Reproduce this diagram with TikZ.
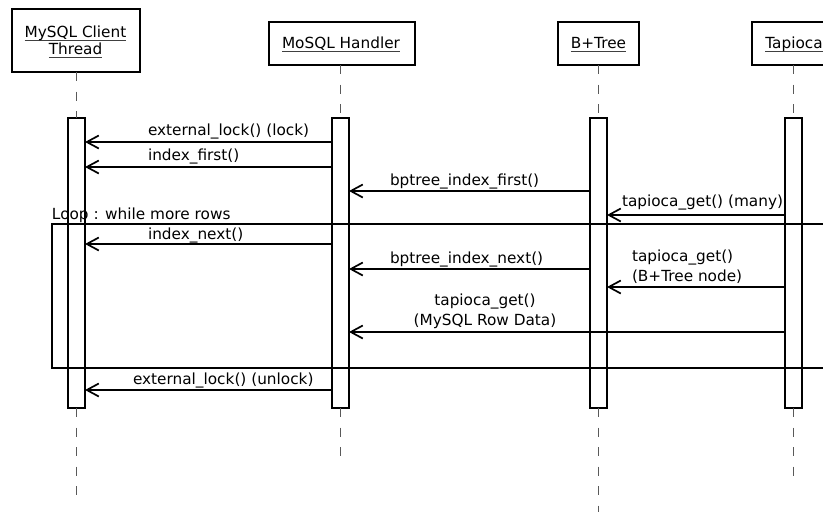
\documentclass[tikz,border=0pt]{standalone}
\usepackage{fontspec}
\setmainfont{DejaVu Sans}
\usetikzlibrary{arrows.meta}
\newcommand\ulin[1]{\setbox0\hbox{#1}\rlap{\color{black!75}\rule[-4.3pt]{\wd0}{1.2pt}}\box0}
\tikzset{
  obj/.style={draw, line width=2pt, fill=white, inner sep=0pt, outer sep=0pt},
  bar/.style={draw, line width=2pt, fill=white, inner sep=0pt, outer sep=0pt, minimum width=17pt, minimum height=290pt},
  life/.style={draw=black!65, line width=1.3pt, dash pattern=on 9pt off 10.5pt},
  msg/.style={line width=1.7pt, -{Straight Barb[length=12pt,width=13pt]}},
  lbl/.style={inner sep=0pt, outer sep=0pt, font=\fontsize{15.3}{17}\selectfont},
  frame/.style={line width=1.8pt}
}
\begin{document}
\begin{tikzpicture}[x=1pt,y=-1pt]
\useasboundingbox (0,0) rectangle (823,512);
\clip (0,0) rectangle (823,512);
% object boxes
\node[obj, minimum width=128pt, minimum height=63pt] (cbox) at (76,40.5) {};
\node[obj, minimum width=146pt, minimum height=43pt] (hbox) at (342,43.5) {};
\node[obj, minimum width=81pt, minimum height=43pt] (bbox) at (598.5,43.5) {};
\node[obj, minimum width=84pt, minimum height=43pt] (tbox) at (793.5,43.5) {};
\node[lbl, anchor=base] (ct1) at (75.5,37) {\ulin{MySQL Client}};
\node[lbl, anchor=base] (ct2) at (75.5,54) {\ulin{Thread}};
\node[lbl, anchor=base] (ht) at (341,48) {\ulin{MoSQL Handler}};
\node[lbl, anchor=base] (bt) at (598.5,48) {\ulin{B+Tree}};
\node[lbl, anchor=base] (tt) at (794,48) {\ulin{Tapioca}};
% activation bars
\node[bar] (cbar) at (76.5,263) {};
\node[bar] (hbar) at (340.5,263) {};
\node[bar] (bbar) at (598.5,263) {};
\node[bar] (tbar) at (793.5,263) {};
% lifelines
\coordinate (cend) at (76.5,496);
\coordinate (hend) at (340.5,456);
\coordinate (bend) at (598.5,520);
\coordinate (tend) at (793.5,476);
\draw[life] (cbox.south -| cbar.north) -- (cbar.north);
\draw[life] (hbox.south -| hbar.north) -- (hbar.north);
\draw[life] (bbox.south -| bbar.north) -- (bbar.north);
\draw[life] (tbox.south -| tbar.north) -- (tbar.north);
\draw[life] (cbar.south) -- (cend);
\draw[life] (hbar.south) -- (hend);
\draw[life] (bbar.south) -- (bend);
\draw[life] (tbar.south) -- (tend);
% loop frame
\draw[frame] (52,224) rectangle (850,368);
\node[lbl, anchor=base west] (looplbl) at (52,219) {Loop : while more rows};
% messages
\draw[msg] (hbar.west |- 0,142) -- (cbar.east |- 0,142);
\node[lbl, anchor=base west] (m1) at (148,135) {external\_lock() (lock)};
\draw[msg] (hbar.west |- 0,167) -- (cbar.east |- 0,167);
\node[lbl, anchor=base west] (m2) at (148,160) {index\_first()};
\draw[msg] (bbar.west |- 0,191) -- (hbar.east |- 0,191);
\node[lbl, anchor=base west] (m3) at (390,185) {bptree\_index\_first()};
\draw[msg] (tbar.west |- 0,215) -- (bbar.east |- 0,215);
\node[lbl, anchor=base west] (m4) at (622,206) {tapioca\_get() (many)};
\draw[msg] (hbar.west |- 0,244) -- (cbar.east |- 0,244);
\node[lbl, anchor=base west] (m5) at (148,239) {index\_next()};
\draw[msg] (bbar.west |- 0,269) -- (hbar.east |- 0,269);
\node[lbl, anchor=base west] (m6) at (390,263) {bptree\_index\_next()};
\draw[msg] (tbar.west |- 0,287) -- (bbar.east |- 0,287);
\node[lbl, anchor=base west] (m7a) at (632,261) {tapioca\_get()};
\node[lbl, anchor=base west] (m7b) at (632,281) {(B+Tree node)};
\draw[msg] (tbar.west |- 0,332) -- (hbar.east |- 0,332);
\node[lbl, anchor=base] (m8a) at (485,305) {tapioca\_get()};
\node[lbl, anchor=base] (m8b) at (485,325) {(MySQL Row Data)};
\draw[msg] (hbar.west |- 0,390) -- (cbar.east |- 0,390);
\node[lbl, anchor=base west] (m9) at (133,384) {external\_lock() (unlock)};
\end{tikzpicture}
\end{document}
